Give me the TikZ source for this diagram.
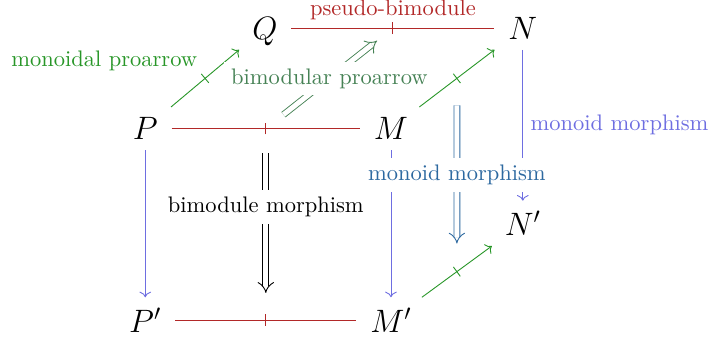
\documentclass[tikz,border=0pt]{standalone}
\usepackage{amsmath,amssymb}
\usepackage{xcolor}
\usepackage{tikz}
\usetikzlibrary{arrows.meta, decorations.markings}

\definecolor{bimodred}{RGB}{178,40,40}
\definecolor{proagreen}{RGB}{40,150,40}
\definecolor{cellgreen}{RGB}{70,130,85}
\definecolor{monblue}{RGB}{110,110,225}
\definecolor{cellblue}{RGB}{45,105,160}

\begin{document}
\begin{tikzpicture}[
    every node/.style={font=\normalsize},
    obj/.style={font=\Large, inner xsep=6pt, inner ysep=4.5pt, text depth=0pt},
    midtick/.style={postaction={decorate, decoration={markings, mark=at position 0.5 with {\draw[-] (0,-2.6pt) -- (0,2.6pt);}}}},
    bimodline/.style={bimodred, midtick},
    proarrow/.style={-{Computer Modern Rightarrow}, proagreen, midtick},
    monarrow/.style={-{Computer Modern Rightarrow}, monblue},
    twocell/.style={double, double distance=2.2pt, -{Implies}},
    lbl/.style={fill=white, inner sep=3pt}
]
\useasboundingbox (0,0) rectangle (11.08,5.30);

% ── Objects ──
\node[obj] (Q)  at (4.14,4.86) {$Q$};
\node[obj] (N)  at (8.17,4.86) {$N$};
\node[obj] (P)  at (2.27,3.29) {$P$};
\node[obj] (M)  at (6.11,3.29) {$M$};
\node[obj] (Np) at (8.17,1.81) {$N'$};
\node[obj] (Pp) at (2.27,0.30) {$P'$};
\node[obj] (Mp) at (6.11,0.30) {$M'$};

% ── Bimodules ──
\draw[bimodline] (Q) -- node[above]{pseudo-bimodule} coordinate[midway] (qn) (N);
\draw[bimodline] (P) -- coordinate[midway] (pm) (M);
\draw[bimodline] (Pp) -- coordinate[midway] (pmp) (Mp);

% ── Proarrows ──
\draw[proarrow] (P) -- node[above left]{monoidal proarrow} (Q);
\draw[proarrow] (M) -- coordinate[midway] (mn) (N);
\draw[proarrow] (Mp) -- coordinate[midway] (mnp) (Np);

% ── Monoid morphisms ──
\draw[monarrow] (P) -- (Pp);
\draw[monarrow] (M) -- (Mp);
\draw[monarrow] (N) -- node[right]{monoid morphism} (Np);

% ── 2-cells ──
\draw[twocell, cellgreen, shorten <=10pt, shorten >=9pt] (pm) -- node[lbl]{bimodular proarrow} (qn);
\draw[twocell, shorten <=11pt, shorten >=12pt] (pm) -- node[lbl, pos=0.41]{bimodule morphism} (pmp);
\draw[twocell, cellblue, shorten <=12pt, shorten >=12.5pt] (mn) -- node[lbl]{monoid morphism} (mnp);

\end{tikzpicture}
\end{document}
